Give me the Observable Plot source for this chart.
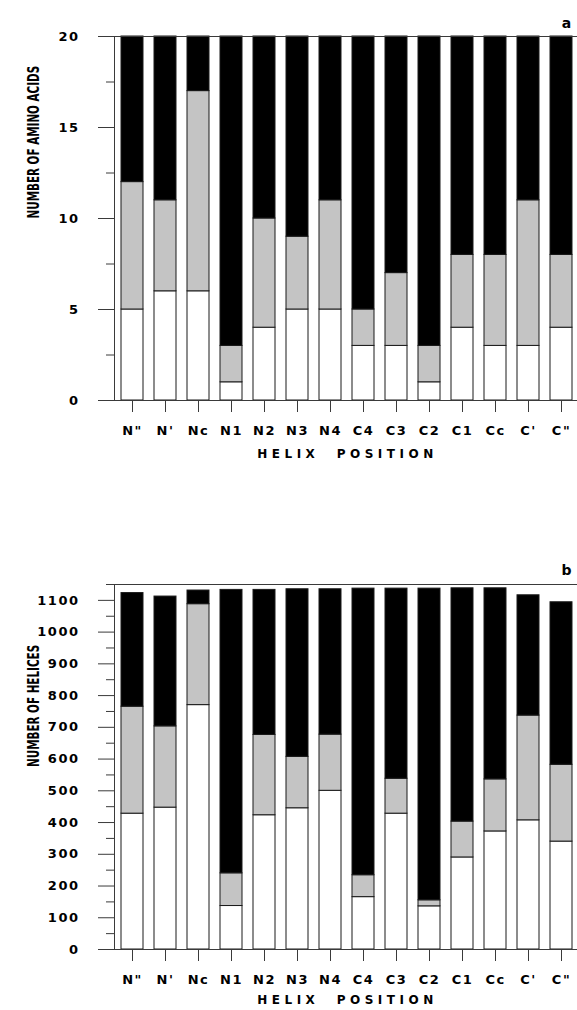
<!DOCTYPE html>
<html>
<head>
<meta charset="utf-8">
<script src="https://cdn.jsdelivr.net/npm/d3@7"></script>
<script src="https://cdn.jsdelivr.net/npm/@observablehq/plot@0.6"></script>
<style>
  html, body { margin: 0; padding: 0; background: #fff; }
  #chart svg { display: block; }
</style>
</head>
<body>
<div id="chart"></div>
<script>
// Helix positions (x categories)
const positions = ['N"', "N'", "Nc", "N1", "N2", "N3", "N4", "C4", "C3", "C2", "C1", "Cc", "C'", 'C"'];
// Stack segments, bottom to top
const series = ["white", "grey", "black"];

// Panel a: number of amino acids
const aminoWhite = [5, 6, 6, 1, 4, 5, 5, 3, 3, 1, 4, 3, 3, 4];
const aminoGrey  = [7, 5, 11, 2, 6, 4, 6, 2, 4, 2, 4, 5, 8, 4];
const aminoBlack = [8, 9, 3, 17, 10, 11, 9, 15, 13, 17, 12, 12, 9, 12];

// Panel b: number of helices
const helixWhite = [428, 447, 770, 137, 423, 445, 500, 165, 428, 136, 290, 372, 407, 340];
const helixGrey  = [337, 256, 318, 103, 253, 162, 177, 69, 110, 19, 113, 164, 330, 242];
const helixBlack = [358, 409, 43, 893, 457, 528, 458, 903, 599, 982, 735, 602, 379, 512];

// Axis ticks
const aminoMajor = [0, 5, 10, 15, 20];
const aminoMinor = [2.5, 7.5, 12.5, 17.5];
const helixMajor = d3.range(0, 1101, 100);
const helixMinor = d3.range(50, 1151, 100);

const xTitle = "HELIX  POSITION";
const segColor = {white: "#ffffff", grey: "#c4c4c4", black: "#000000"};

function table(parts) {
  return positions.flatMap((p, i) => series.map((s, k) => ({pos: p, seg: s, value: parts[k][i]})));
}

function panel({data, yMax, major, minor, yTitle, letter, height, marginTop, marginBottom, letterDy, titleDy}) {
  const svg = Plot.plot({
    width: 577,
    height,
    marginTop,
    marginBottom,
    marginLeft: 114,
    marginRight: -3,
    style: {fontFamily: "DejaVu Sans", background: "white", color: "black"},
    x: {domain: positions, paddingInner: 0.33, paddingOuter: 0.15, label: null},
    y: {domain: [0, yMax], label: null},
    color: {type: "identity"},
    marks: [
      Plot.barY(data, Plot.stackY({x: "pos", y: "value", fill: d => segColor[d.seg], stroke: "#1a1a1a", strokeWidth: 1})),
      Plot.frame({stroke: "#3a3a3a", strokeWidth: 1}),
      Plot.axisY({ticks: minor, tickSize: 8, tickFormat: () => "", stroke: "#3a3a3a", label: null}),
      Plot.axisY({ticks: major, tickSize: 16, tickPadding: 19, tickFormat: d => String(d), fontSize: 13, fontWeight: "bold",
                  stroke: "#3a3a3a", fill: "black", label: null}),
      Plot.axisX({tickSize: 12, tickPadding: 13, fontSize: 13, fontWeight: "bold",
                  stroke: "#3a3a3a", fill: "black", label: null}),
      Plot.text([yTitle], {text: d => d, frameAnchor: "left", dx: -81, rotate: -90,
                           fontSize: 16, fontWeight: "bold", fill: "black"}),
      Plot.text([xTitle], {text: d => d, frameAnchor: "bottom", dy: titleDy,
                           fontSize: 12, fontWeight: "bold", fill: "black"}),
      Plot.text([letter], {text: d => d, frameAnchor: "top-right", dx: -14, dy: letterDy,
                           textAnchor: "middle", fontSize: 14, fontWeight: "bold", fill: "black"})
    ]
  });
  const s = d3.select(svg);
  s.selectAll("text").each(function() {
    const t = this.textContent;
    if (t === yTitle) {
      this.setAttribute("transform", (this.getAttribute("transform") || "") + " scale(0.65,1)");
    } else if (t === xTitle) {
      this.style.letterSpacing = "4.5px";
    } else if (t !== letter) {
      this.style.letterSpacing = "1.5px";
    }
  });
  return svg;
}

const root = document.getElementById("chart");
root.appendChild(panel({
  data: table([aminoWhite, aminoGrey, aminoBlack]),
  yMax: 20, major: aminoMajor, minor: aminoMinor,
  yTitle: "NUMBER OF AMINO ACIDS", letter: "a",
  height: 490, marginTop: 36, marginBottom: 90, letterDy: -18, titleDy: 57
}));
root.appendChild(panel({
  data: table([helixWhite, helixGrey, helixBlack]),
  yMax: 1150, major: helixMajor, minor: helixMinor,
  yTitle: "NUMBER OF HELICES", letter: "b",
  height: 520, marginTop: 94, marginBottom: 61, letterDy: -19, titleDy: 54
}));
</script>
</body>
</html>
